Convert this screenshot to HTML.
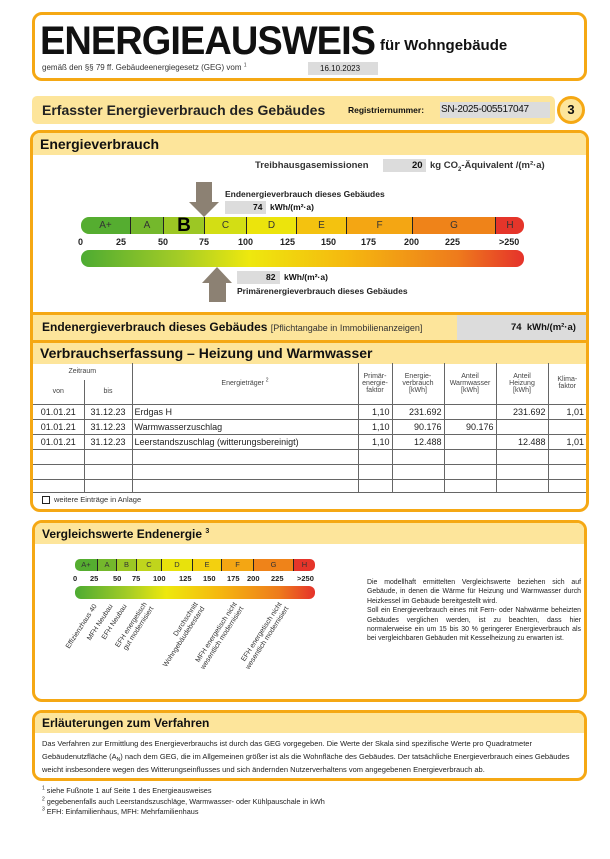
<!DOCTYPE html>
<html><head><meta charset="utf-8"><style>
*{margin:0;padding:0;box-sizing:border-box}
body{width:610px;height:859px;background:#fff;position:relative;font-family:"Liberation Sans",sans-serif;color:#111;overflow:hidden}
.a{position:absolute;white-space:nowrap}
.box{position:absolute;border:3px solid #f5a814;border-radius:10px}
.bar{position:absolute;background:#fde59b}
.g{position:absolute;background:#dcdcdc}
.seg{position:absolute;top:0;height:100%;border-right:1px solid #222;font-size:10px;text-align:center;line-height:17px;color:#333}
table{border-collapse:collapse;position:absolute;font-size:7px;color:#444}
td{border:1px solid #666;padding:0 2px}
sub,sup{line-height:0}
</style></head><body>

<div class="box" style="left:32px;top:12px;width:555px;height:69px"></div>
<div class="a" style="left:40px;top:19px;font-size:40px;font-weight:bold;letter-spacing:-1px;line-height:44px;transform:scaleX(0.95);transform-origin:0 0">ENERGIEAUSWEIS</div>
<div class="a" style="left:380px;top:37px;font-size:15px;font-weight:bold">für Wohngebäude</div>
<div class="a" style="left:42px;top:63px;font-size:8px;color:#333">gemäß den §§ 79 ff. Gebäudeenergiegesetz (GEG) vom <sup style="font-size:5px">1</sup></div>
<div class="g" style="left:308px;top:62px;width:70px;height:13px"></div>
<div class="a" style="left:320px;top:64px;font-size:8px">16.10.2023</div>

<div class="bar" style="left:32px;top:96px;width:523px;height:28px;border-radius:5px"></div>
<div class="a" style="left:42px;top:102px;font-size:14px;font-weight:bold;color:#222">Erfasster Energieverbrauch des Gebäudes</div>
<div class="a" style="left:348px;top:105px;font-size:8.5px;font-weight:bold">Registriernummer:</div>
<div class="g" style="left:440px;top:102px;width:110px;height:16px"></div>
<div class="a" style="left:441px;top:104px;font-size:10px;letter-spacing:-0.3px">SN-2025-005517047</div>
<div class="a" style="left:557px;top:96px;width:28px;height:28px;border:3px solid #f5a814;border-radius:50%;background:#fde59b;text-align:center;font-size:13px;font-weight:bold;line-height:22px">3</div>

<div class="box" style="left:30px;top:130px;width:559px;height:382px"></div>
<div class="bar" style="left:33px;top:133px;width:553px;height:22px;border-radius:7px 7px 0 0"></div>
<div class="a" style="left:40px;top:136px;font-size:14px;font-weight:bold">Energieverbrauch</div>

<div class="a" style="left:255px;top:160px;font-size:9.5px;font-weight:bold;color:#333">Treibhausgasemissionen</div>
<div class="g" style="left:383px;top:159px;width:43px;height:13px"></div>
<div class="a" style="left:412px;top:160px;font-size:9.5px;font-weight:bold">20</div>
<div class="a" style="left:430px;top:160px;font-size:9.5px;font-weight:bold;color:#333">kg CO<sub style="font-size:6px">2</sub>-Äquivalent /(m²·a)</div>

<svg class="a" style="left:0;top:0" width="610" height="859">
<polygon points="196,182 212,182 212,202 219,202 204,217 189,202 196,202" fill="#8c8173"/>
<polygon points="209,302 226,302 226,283 232,283 217,267 202,283 209,283" fill="#8c8173"/>
<defs><linearGradient id="gr" x1="0" x2="1"><stop offset="0" stop-color="#4dab32"/><stop offset="0.22" stop-color="#a4cc26"/><stop offset="0.38" stop-color="#eee80e"/><stop offset="0.6" stop-color="#f5b80f"/><stop offset="0.85" stop-color="#ee7b1c"/><stop offset="1" stop-color="#e5322b"/></linearGradient></defs>
<rect x="81" y="250" width="443" height="17" rx="8" fill="url(#gr)"/>
<rect x="75" y="586" width="240" height="13" rx="6" fill="url(#gr)"/>
<g font-family="Liberation Sans" font-size="7" fill="#333">
<text transform="translate(97,606) rotate(-57)" text-anchor="end">Effizienzhaus 40</text>
<text transform="translate(113,606) rotate(-57)" text-anchor="end">MFH Neubau</text>
<text transform="translate(127,606) rotate(-57)" text-anchor="end">EFH Neubau</text>
<text transform="translate(147,604) rotate(-57)" text-anchor="end"><tspan x="0" y="0">EFH energetisch</tspan><tspan x="0" y="8">gut modernisiert</tspan></text>
<text transform="translate(198,604) rotate(-57)" text-anchor="end"><tspan x="0" y="0">Durchschnitt</tspan><tspan x="0" y="8">Wohngebäudebestand</tspan></text>
<text transform="translate(237,604) rotate(-57)" text-anchor="end"><tspan x="0" y="0">MFH energetisch nicht</tspan><tspan x="0" y="8">wesentlich modernisiert</tspan></text>
<text transform="translate(282,604) rotate(-57)" text-anchor="end"><tspan x="0" y="0">EFH energetisch nicht</tspan><tspan x="0" y="8">wesentlich modernisiert</tspan></text>
</g>
</svg>

<div class="a" style="left:225px;top:189px;font-size:8.5px;font-weight:bold;color:#222">Endenergieverbrauch dieses Gebäudes</div>
<div class="g" style="left:225px;top:201px;width:41px;height:13px"></div>
<div class="a" style="left:253px;top:202px;font-size:8.5px;font-weight:bold">74</div>
<div class="a" style="left:270px;top:202px;font-size:8.5px;font-weight:bold">kWh/(m²·a)</div>

<div class="a" style="left:81px;top:217px;width:443px;height:17px;border-radius:8px;overflow:hidden">
<div class="seg" style="left:0;width:50px;background:#55ad30">A+</div>
<div class="seg" style="left:50px;width:33px;background:#74b82c">A</div>
<div class="seg" style="left:83px;width:41px;background:#9cc724;font-size:19px;font-weight:bold;color:#000">B</div>
<div class="seg" style="left:124px;width:42px;background:#d3de14">C</div>
<div class="seg" style="left:166px;width:50px;background:#ece40c">D</div>
<div class="seg" style="left:216px;width:50px;background:#f4c20f">E</div>
<div class="seg" style="left:266px;width:66px;background:#f4a613">F</div>
<div class="seg" style="left:332px;width:83px;background:#ef8319">G</div>
<div class="seg" style="left:415px;width:28px;background:#e5352a;border:none">H</div>
</div>
<div style="position:absolute;top:237px;font-size:9px;font-weight:bold;color:#222">
<span class="a" style="left:78px">0</span><span class="a" style="left:116px">25</span><span class="a" style="left:158px">50</span><span class="a" style="left:199px">75</span><span class="a" style="left:238px">100</span><span class="a" style="left:280px">125</span><span class="a" style="left:321px">150</span><span class="a" style="left:361px">175</span><span class="a" style="left:404px">200</span><span class="a" style="left:445px">225</span><span class="a" style="left:499px">&gt;250</span>
</div>

<div class="g" style="left:237px;top:271px;width:43px;height:13px"></div>
<div class="a" style="left:266px;top:272px;font-size:8.5px;font-weight:bold">82</div>
<div class="a" style="left:284px;top:272px;font-size:8.5px;font-weight:bold">kWh/(m²·a)</div>
<div class="a" style="left:237px;top:286px;font-size:8.5px;font-weight:bold;color:#222">Primärenergieverbrauch dieses Gebäudes</div>

<div class="a" style="left:33px;top:312px;width:553px;height:3px;background:#f5a814"></div>
<div class="bar" style="left:33px;top:315px;width:553px;height:25px"></div>
<div class="g" style="left:457px;top:315px;width:129px;height:25px"></div>
<div class="a" style="left:42px;top:320px;font-size:12px;font-weight:bold">Endenergieverbrauch dieses Gebäudes <span style="font-size:9px;font-weight:normal;color:#333">[Pflichtangabe in Immobilienanzeigen]</span></div>
<div class="a" style="left:511px;top:322px;font-size:9.5px;font-weight:bold">74 &nbsp;kWh/(m²·a)</div>
<div class="a" style="left:33px;top:340px;width:553px;height:3px;background:#f5a814"></div>
<div class="bar" style="left:33px;top:343px;width:553px;height:21px"></div>
<div class="a" style="left:40px;top:345px;font-size:14px;font-weight:bold">Verbrauchserfassung – Heizung und Warmwasser</div>

<table style="left:33px;top:363px;width:553px;text-align:center">
<colgroup><col style="width:51px"><col style="width:48px"><col style="width:226px"><col style="width:34px"><col style="width:52px"><col style="width:52px"><col style="width:52px"><col></colgroup>
<tr style="height:17px"><td colspan="2" style="border-top:none;border-left:none;border-bottom:none">Zeitraum</td><td rowspan="2" style="border-top:none">Energieträger <sup style="font-size:5px">2</sup></td><td rowspan="2" style="border-top:none">Primär-<br>energie-<br>faktor</td><td rowspan="2" style="border-top:none">Energie-<br>verbrauch<br>[kWh]</td><td rowspan="2" style="border-top:none">Anteil<br>Warmwasser<br>[kWh]</td><td rowspan="2" style="border-top:none">Anteil<br>Heizung<br>[kWh]</td><td rowspan="2" style="border-top:none;border-right:none">Klima-<br>faktor</td></tr>
<tr style="height:24px"><td style="border-left:none;border-top:none">von</td><td style="border-top:none">bis</td></tr>
<tbody style="font-size:9px;color:#222">
<tr style="height:15px"><td style="border-left:none">01.01.21</td><td>31.12.23</td><td style="text-align:left">Erdgas H</td><td style="text-align:right">1,10</td><td style="text-align:right">231.692</td><td></td><td style="text-align:right">231.692</td><td style="border-right:none;text-align:right">1,01</td></tr>
<tr style="height:15px"><td style="border-left:none">01.01.21</td><td>31.12.23</td><td style="text-align:left">Warmwasserzuschlag</td><td style="text-align:right">1,10</td><td style="text-align:right">90.176</td><td style="text-align:right">90.176</td><td></td><td style="border-right:none"></td></tr>
<tr style="height:15px"><td style="border-left:none">01.01.21</td><td>31.12.23</td><td style="text-align:left">Leerstandszuschlag (witterungsbereinigt)</td><td style="text-align:right">1,10</td><td style="text-align:right">12.488</td><td></td><td style="text-align:right">12.488</td><td style="border-right:none;text-align:right">1,01</td></tr>
<tr style="height:15px"><td style="border-left:none"></td><td></td><td></td><td></td><td></td><td></td><td></td><td style="border-right:none"></td></tr>
<tr style="height:15px"><td style="border-left:none"></td><td></td><td></td><td></td><td></td><td></td><td></td><td style="border-right:none"></td></tr>
<tr style="height:13px"><td style="border-left:none"></td><td></td><td></td><td></td><td></td><td></td><td></td><td style="border-right:none"></td></tr>
</tbody></table>
<div class="a" style="left:42px;top:496px;width:8px;height:8px;border:1px solid #222"></div>
<div class="a" style="left:54px;top:495px;font-size:7.5px;color:#333">weitere Einträge in Anlage</div>

<div class="box" style="left:32px;top:520px;width:555px;height:182px"></div>
<div class="bar" style="left:35px;top:523px;width:549px;height:21px;border-radius:7px 7px 0 0"></div>
<div class="a" style="left:42px;top:527px;font-size:12px;font-weight:bold">Vergleichswerte Endenergie <sup style="font-size:7px">3</sup></div>
<div class="a" style="left:75px;top:559px;width:240px;height:12px;border-radius:5px;overflow:hidden">
<div class="seg" style="left:0;width:23px;background:#55ad30;font-size:7.5px;line-height:12px">A+</div>
<div class="seg" style="left:23px;width:19px;background:#74b82c;font-size:7.5px;line-height:12px">A</div>
<div class="seg" style="left:42px;width:20px;background:#9cc724;font-size:7.5px;line-height:12px">B</div>
<div class="seg" style="left:62px;width:25px;background:#c0d51c;font-size:7.5px;line-height:12px">C</div>
<div class="seg" style="left:87px;width:31px;background:#e8e20c;font-size:7.5px;line-height:12px">D</div>
<div class="seg" style="left:118px;width:29px;background:#f3d00f;font-size:7.5px;line-height:12px">E</div>
<div class="seg" style="left:147px;width:32px;background:#f4a613;font-size:7.5px;line-height:12px">F</div>
<div class="seg" style="left:179px;width:40px;background:#ef8319;font-size:7.5px;line-height:12px">G</div>
<div class="seg" style="left:219px;width:21px;background:#e5352a;border:none;font-size:7.5px;line-height:12px">H</div>
</div>
<div style="position:absolute;top:574px;font-size:7.5px;font-weight:bold;color:#222">
<span class="a" style="left:73px">0</span><span class="a" style="left:90px">25</span><span class="a" style="left:113px">50</span><span class="a" style="left:132px">75</span><span class="a" style="left:153px">100</span><span class="a" style="left:179px">125</span><span class="a" style="left:203px">150</span><span class="a" style="left:227px">175</span><span class="a" style="left:247px">200</span><span class="a" style="left:271px">225</span><span class="a" style="left:297px">&gt;250</span>
</div>
<div class="a" style="left:367px;top:578px;width:214px;white-space:normal;font-size:6.9px;line-height:9.4px;text-align:justify;color:#222">Die modellhaft ermittelten Vergleichswerte beziehen sich auf Gebäude, in denen die Wärme für Heizung und Warmwasser durch Heizkessel im Gebäude bereitgestellt wird.<br>Soll ein Energieverbrauch eines mit Fern- oder Nahwärme beheizten Gebäudes verglichen werden, ist zu beachten, dass hier normalerweise ein um 15 bis 30 % geringerer Energieverbrauch als bei vergleichbaren Gebäuden mit Kesselheizung zu erwarten ist.</div>

<div class="box" style="left:32px;top:710px;width:555px;height:71px"></div>
<div class="bar" style="left:35px;top:713px;width:549px;height:20px;border-radius:7px 7px 0 0"></div>
<div class="a" style="left:42px;top:716px;font-size:12px;font-weight:bold">Erläuterungen zum Verfahren</div>
<div class="a" style="left:42px;top:737px;width:538px;white-space:normal;font-size:7.5px;line-height:13px;color:#222">Das Verfahren zur Ermittlung des Energieverbrauchs ist durch das GEG vorgegeben. Die Werte der Skala sind spezifische Werte pro Quadratmeter Gebäudenutzfläche (A<span style="font-size:5px;vertical-align:-2px;line-height:0">N</span>) nach dem GEG, die im Allgemeinen größer ist als die Wohnfläche des Gebäudes. Der tatsächliche Energieverbrauch eines Gebäudes weicht insbesondere wegen des Witterungseinflusses und sich ändernden Nutzerverhaltens vom angegebenen Energieverbrauch ab.</div>

<div class="a" style="left:42px;top:786px;font-size:7.3px;line-height:10.5px;color:#222"><sup style="font-size:5px">1</sup> siehe Fußnote 1 auf Seite 1 des Energieausweises<br><sup style="font-size:5px">2</sup> gegebenenfalls auch Leerstandszuschläge, Warmwasser- oder Kühlpauschale in kWh<br><sup style="font-size:5px">3</sup> EFH: Einfamilienhaus, MFH: Mehrfamilienhaus</div>
</body></html>
